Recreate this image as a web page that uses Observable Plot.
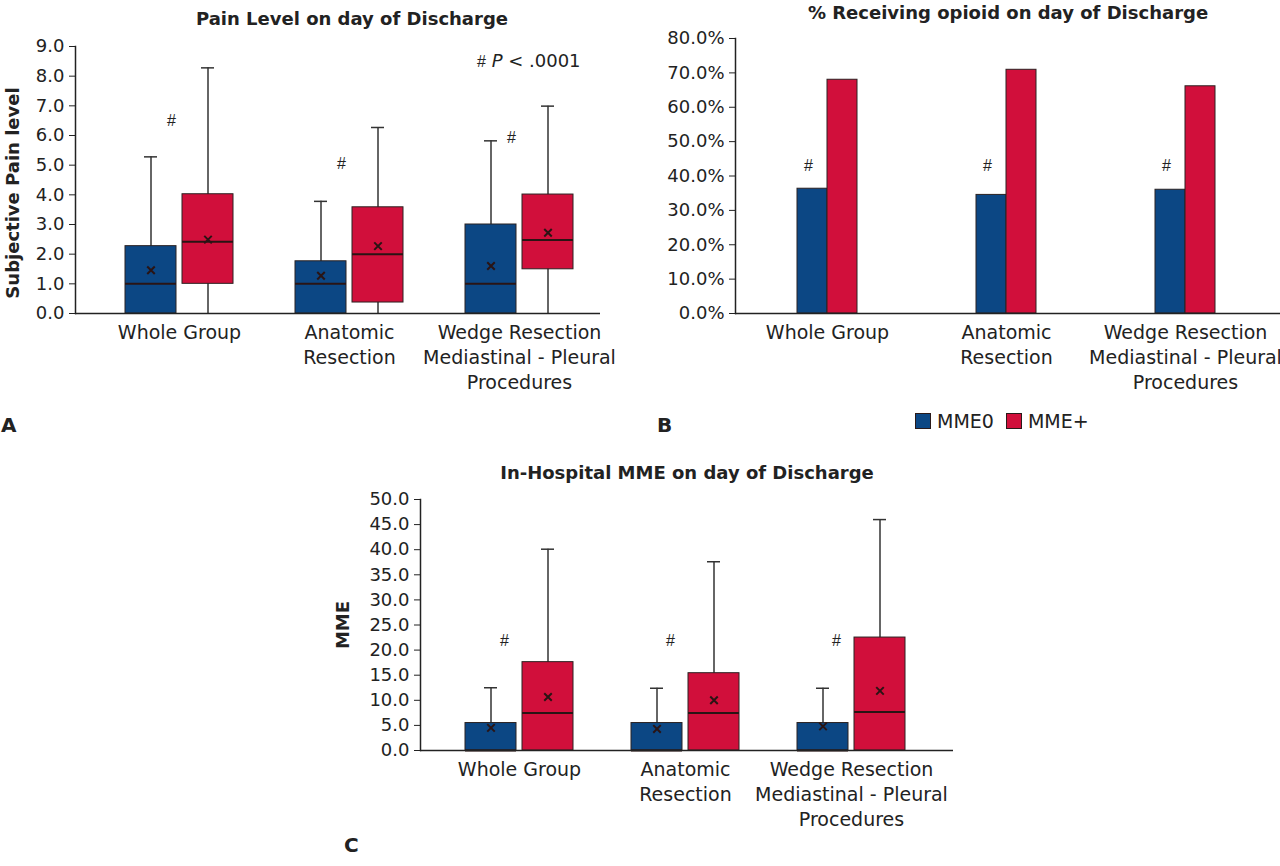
<!DOCTYPE html>
<html><head><meta charset="utf-8">
<script src="https://cdn.jsdelivr.net/npm/d3@7"></script>
<script src="https://cdn.jsdelivr.net/npm/@observablehq/plot@0.6"></script>
<style>
html,body{margin:0;padding:0;background:#fff;overflow:hidden;}
#root{position:relative;width:1280px;height:866px;overflow:hidden;font-family:"DejaVu Sans",Verdana,sans-serif;color:#222;}
.t{position:absolute;white-space:nowrap;}
.title{font-weight:bold;font-size:18px;transform:translate(-50%,-50%);}
.letter{font-weight:bold;font-size:20px;transform:translate(0,-50%);}
.sw{display:inline-block;width:16px;height:16px;border:1px solid #2a1a1a;box-sizing:border-box;vertical-align:middle;margin-right:6px;}
</style></head><body><div id="root"></div>
<script>
// ---------- shared ----------
const categories = ["Whole Group", "Anatomic Resection", "Wedge Resection Mediastinal - Pleural Procedures"];
const tickLabels = ["Whole Group", "Anatomic\nResection", "Wedge Resection\nMediastinal - Pleural\nProcedures"];
const series = ["MME0", "MME+"];
const seriesColors = ["#0c4784", "#d10f3b"];

// ---------- Panel A: pain level (box plots) ----------
const painTicks = [0, 1, 2, 3, 4, 5, 6, 7, 8, 9];
const painMME0Min = [0, 0, 0];
const painMME0Q1 = [0, 0, 0];
const painMME0Median = [1.0, 1.0, 1.0];
const painMME0Q3 = [2.27, 1.76, 3.0];
const painMME0Max = [5.28, 3.78, 5.82];
const painMME0Mean = [1.46, 1.27, 1.6];
const painMMEpMin = [0, 0, 0];
const painMMEpQ1 = [1.0, 0.37, 1.49];
const painMMEpMedian = [2.42, 2.0, 2.48];
const painMMEpQ3 = [4.02, 3.58, 4.01];
const painMMEpMax = [8.28, 6.27, 6.99];
const painMMEpMean = [2.49, 2.27, 2.72];
const painHashY = [6.5, 5.05, 5.93];

// ---------- Panel B: % receiving opioid (bars) ----------
const opioidTicks = [0, 0.1, 0.2, 0.3, 0.4, 0.5, 0.6, 0.7, 0.8];
const opioidMME0 = [0.363, 0.345, 0.360];
const opioidMMEp = [0.680, 0.709, 0.661];
const opioidHashY = [0.43, 0.43, 0.43];

// ---------- Panel C: in-hospital MME (box plots) ----------
const mmeTicks = [0, 5, 10, 15, 20, 25, 30, 35, 40, 45, 50];
const mmeMME0Min = [0, 0, 0];
const mmeMME0Q1 = [0, 0, 0];
const mmeMME0Median = [0, 0, 0];
const mmeMME0Q3 = [5.47, 5.47, 5.47];
const mmeMME0Max = [12.5, 12.4, 12.4];
const mmeMME0Mean = [4.5, 4.3, 4.8];
const mmeMMEpMin = [0, 0, 0];
const mmeMMEpQ1 = [0, 0, 0];
const mmeMMEpMedian = [7.47, 7.47, 7.67];
const mmeMMEpQ3 = [17.6, 15.4, 22.5];
const mmeMMEpMax = [40.1, 37.6, 46.0];
const mmeMMEpMean = [10.67, 10.0, 11.87];
const mmeHashY = [21.9, 21.9, 21.9];

// ---------- helpers ----------
const root = document.getElementById("root");
function put(el, left, top) { el.style.position = "absolute"; el.style.left = left + "px"; el.style.top = top + "px"; root.appendChild(el); return el; }
function txt(html, left, top, cls, css) { const d = document.createElement("div"); d.className = "t " + (cls || ""); d.innerHTML = html; if (css) d.style.cssText = css; return put(d, left, top); }

function boxRows(min, q1, median, q3, max, mean) {
  return categories.map((cat, i) => ({cat, min: min[i], q1: q1[i], median: median[i], q3: q3[i], max: max[i], mean: mean[i]}));
}
const STYLE = {fontFamily: "'DejaVu Sans', Verdana, sans-serif", fontSize: "18px", color: "#222", background: "transparent", overflow: "visible"};
const HASHFONT = "'Liberation Sans', Arial, sans-serif";
const BW = 109, BOX = 52, CAP = 14;
function boxMarks(rows, side) {
  const left = side === 0;
  const color = seriesColors[side];
  const center = left ? BOX / 2 : BW - BOX / 2;
  const dx = center - BW / 2;
  const inL = left ? 0 : BW - BOX, inR = left ? BW - BOX : 0;
  return [
    Plot.ruleX(rows, {x: "cat", y1: "min", y2: "max", dx, stroke: "#333", strokeWidth: 1.5}),
    Plot.tickY(rows, {x: "cat", y: "max", stroke: "#333", strokeWidth: 1.5, insetLeft: center - CAP / 2, insetRight: BW - center - CAP / 2}),
    Plot.barY(rows, {x: "cat", y1: "q1", y2: "q3", fill: color, stroke: "#2b2222", strokeWidth: 1, insetLeft: inL, insetRight: inR}),
    Plot.tickY(rows, {x: "cat", y: "median", stroke: "#2a1414", strokeWidth: 2, insetLeft: inL, insetRight: inR}),
    Plot.dot(rows, {x: "cat", y: "mean", dx, symbol: "times", r: 3.5, stroke: "#2a1414", strokeWidth: 2})
  ];
}
const fmtLabel = d => tickLabels[categories.indexOf(d)];
const xAxis = () => Plot.axisX({tickSize: 0, tickPadding: 8, tickFormat: fmtLabel, fontSize: 19, lineHeight: 1.316, label: null, fill: "#222"});

// ---------- Panel A ----------
const painRows0 = boxRows(painMME0Min, painMME0Q1, painMME0Median, painMME0Q3, painMME0Max, painMME0Mean);
const painRowsP = boxRows(painMMEpMin, painMMEpQ1, painMMEpMedian, painMMEpQ3, painMMEpMax, painMMEpMean);
const plotA = Plot.plot({
  width: 610, height: 400, marginLeft: 75, marginRight: 10, marginTop: 46, marginBottom: 87,
  style: STYLE,
  x: {domain: categories, paddingInner: 0.362, paddingOuter: 0.2185, align: 0.657},
  y: {domain: [0, 9]},
  marks: [
    Plot.axisY(painTicks, {tickSize: 6, tickPadding: 5, tickFormat: d => d.toFixed(1), fontSize: 18, label: null}),
    xAxis(),
    ...boxMarks(painRows0, 0),
    ...boxMarks(painRowsP, 1),
    Plot.text(painRows0, {x: "cat", y: (d, i) => painHashY[i], text: () => "#", dx: -8, fontSize: 16, fontFamily: HASHFONT}),
    Plot.text(["Subjective Pain level"], {text: d => d, frameAnchor: "left", textAnchor: "middle", rotate: -90, dx: -62, dy: 13, fontWeight: "bold", fontSize: 18}),
    Plot.frame({anchor: "left", stroke: "#222", strokeWidth: 1.5}),
    Plot.ruleY([0], {stroke: "#222", strokeWidth: 1.5})
  ]
});
put(plotA, 0, 0);

// ---------- Panel B ----------
const opioidRows0 = categories.map((cat, i) => ({cat, value: opioidMME0[i]}));
const opioidRowsP = categories.map((cat, i) => ({cat, value: opioidMMEp[i]}));
const plotB = Plot.plot({
  width: 640, height: 400, marginLeft: 95, marginRight: 0, marginTop: 38, marginBottom: 87,
  style: STYLE,
  x: {domain: categories, paddingInner: 0.667, paddingOuter: 0.3475, align: 0.49},
  y: {domain: [0, 0.8]},
  marks: [
    Plot.axisY(opioidTicks, {tickSize: 6, tickPadding: 5, tickFormat: d3.format(".1%"), fontSize: 18, label: null}),
    xAxis(),
    Plot.barY(opioidRows0, {x: "cat", y: "value", fill: seriesColors[0], stroke: "#2b2222", strokeWidth: 1, insetRight: 30}),
    Plot.barY(opioidRowsP, {x: "cat", y: "value", fill: seriesColors[1], stroke: "#2b2222", strokeWidth: 1, insetLeft: 30}),
    Plot.text(opioidRows0, {x: "cat", y: (d, i) => opioidHashY[i], text: () => "#", dx: -19, fontSize: 16, fontFamily: HASHFONT}),
    Plot.frame({anchor: "left", stroke: "#222", strokeWidth: 1.5}),
    Plot.ruleY([0], {stroke: "#222", strokeWidth: 1.5})
  ]
});
put(plotB, 640, 0);

// ---------- Panel C ----------
const mmeRows0 = boxRows(mmeMME0Min, mmeMME0Q1, mmeMME0Median, mmeMME0Q3, mmeMME0Max, mmeMME0Mean);
const mmeRowsP = boxRows(mmeMMEpMin, mmeMMEpQ1, mmeMMEpMedian, mmeMMEpQ3, mmeMMEpMax, mmeMMEpMean);
const plotC = Plot.plot({
  width: 640, height: 420, marginLeft: 90, marginRight: 17, marginTop: 69, marginBottom: 100,
  style: STYLE,
  x: {domain: categories, paddingInner: 0.347, paddingOuter: 0.27, align: 0.483},
  y: {domain: [0, 50]},
  marks: [
    Plot.axisY(mmeTicks, {tickSize: 6, tickPadding: 5, tickFormat: d => d.toFixed(1), fontSize: 18, label: null}),
    xAxis(),
    ...boxMarks(mmeRows0, 0),
    ...boxMarks(mmeRowsP, 1),
    Plot.text(mmeRows0, {x: "cat", y: (d, i) => mmeHashY[i], text: () => "#", dx: -15, fontSize: 16, fontFamily: HASHFONT}),
    Plot.text(["MME"], {text: d => d, frameAnchor: "left", textAnchor: "middle", rotate: -90, dx: -77, fontWeight: "bold", fontSize: 18}),
    Plot.frame({anchor: "left", stroke: "#222", strokeWidth: 1.5}),
    Plot.ruleY([0], {stroke: "#222", strokeWidth: 1.5})
  ]
});
put(plotC, 330, 430);

// ---------- titles, annotations, legend ----------
txt("Pain Level on day of Discharge", 352, 18, "title");
txt("% Receiving opioid on day of Discharge", 1008, 12, "title");
txt("In-Hospital MME on day of Discharge", 687, 472, "title");
txt("<span style=\"font-family:'Liberation Sans',Arial;font-size:16px\">#</span> <i>P</i> &lt; .0001", 477, 50, "", "font-size:18px;");
txt("A", 1, 425, "letter");
txt("B", 657, 425, "letter");
txt("C", 344, 845, "letter");
const legend = document.createElement("div");
legend.className = "t";
legend.style.cssText = "font-size:19px;line-height:20px;";
legend.innerHTML = series.map((s, i) => `<span class="sw" style="background:${seriesColors[i]}"></span><span style="vertical-align:middle;margin-right:12px">${s}</span>`).join("");
put(legend, 915, 409);
</script></body></html>
